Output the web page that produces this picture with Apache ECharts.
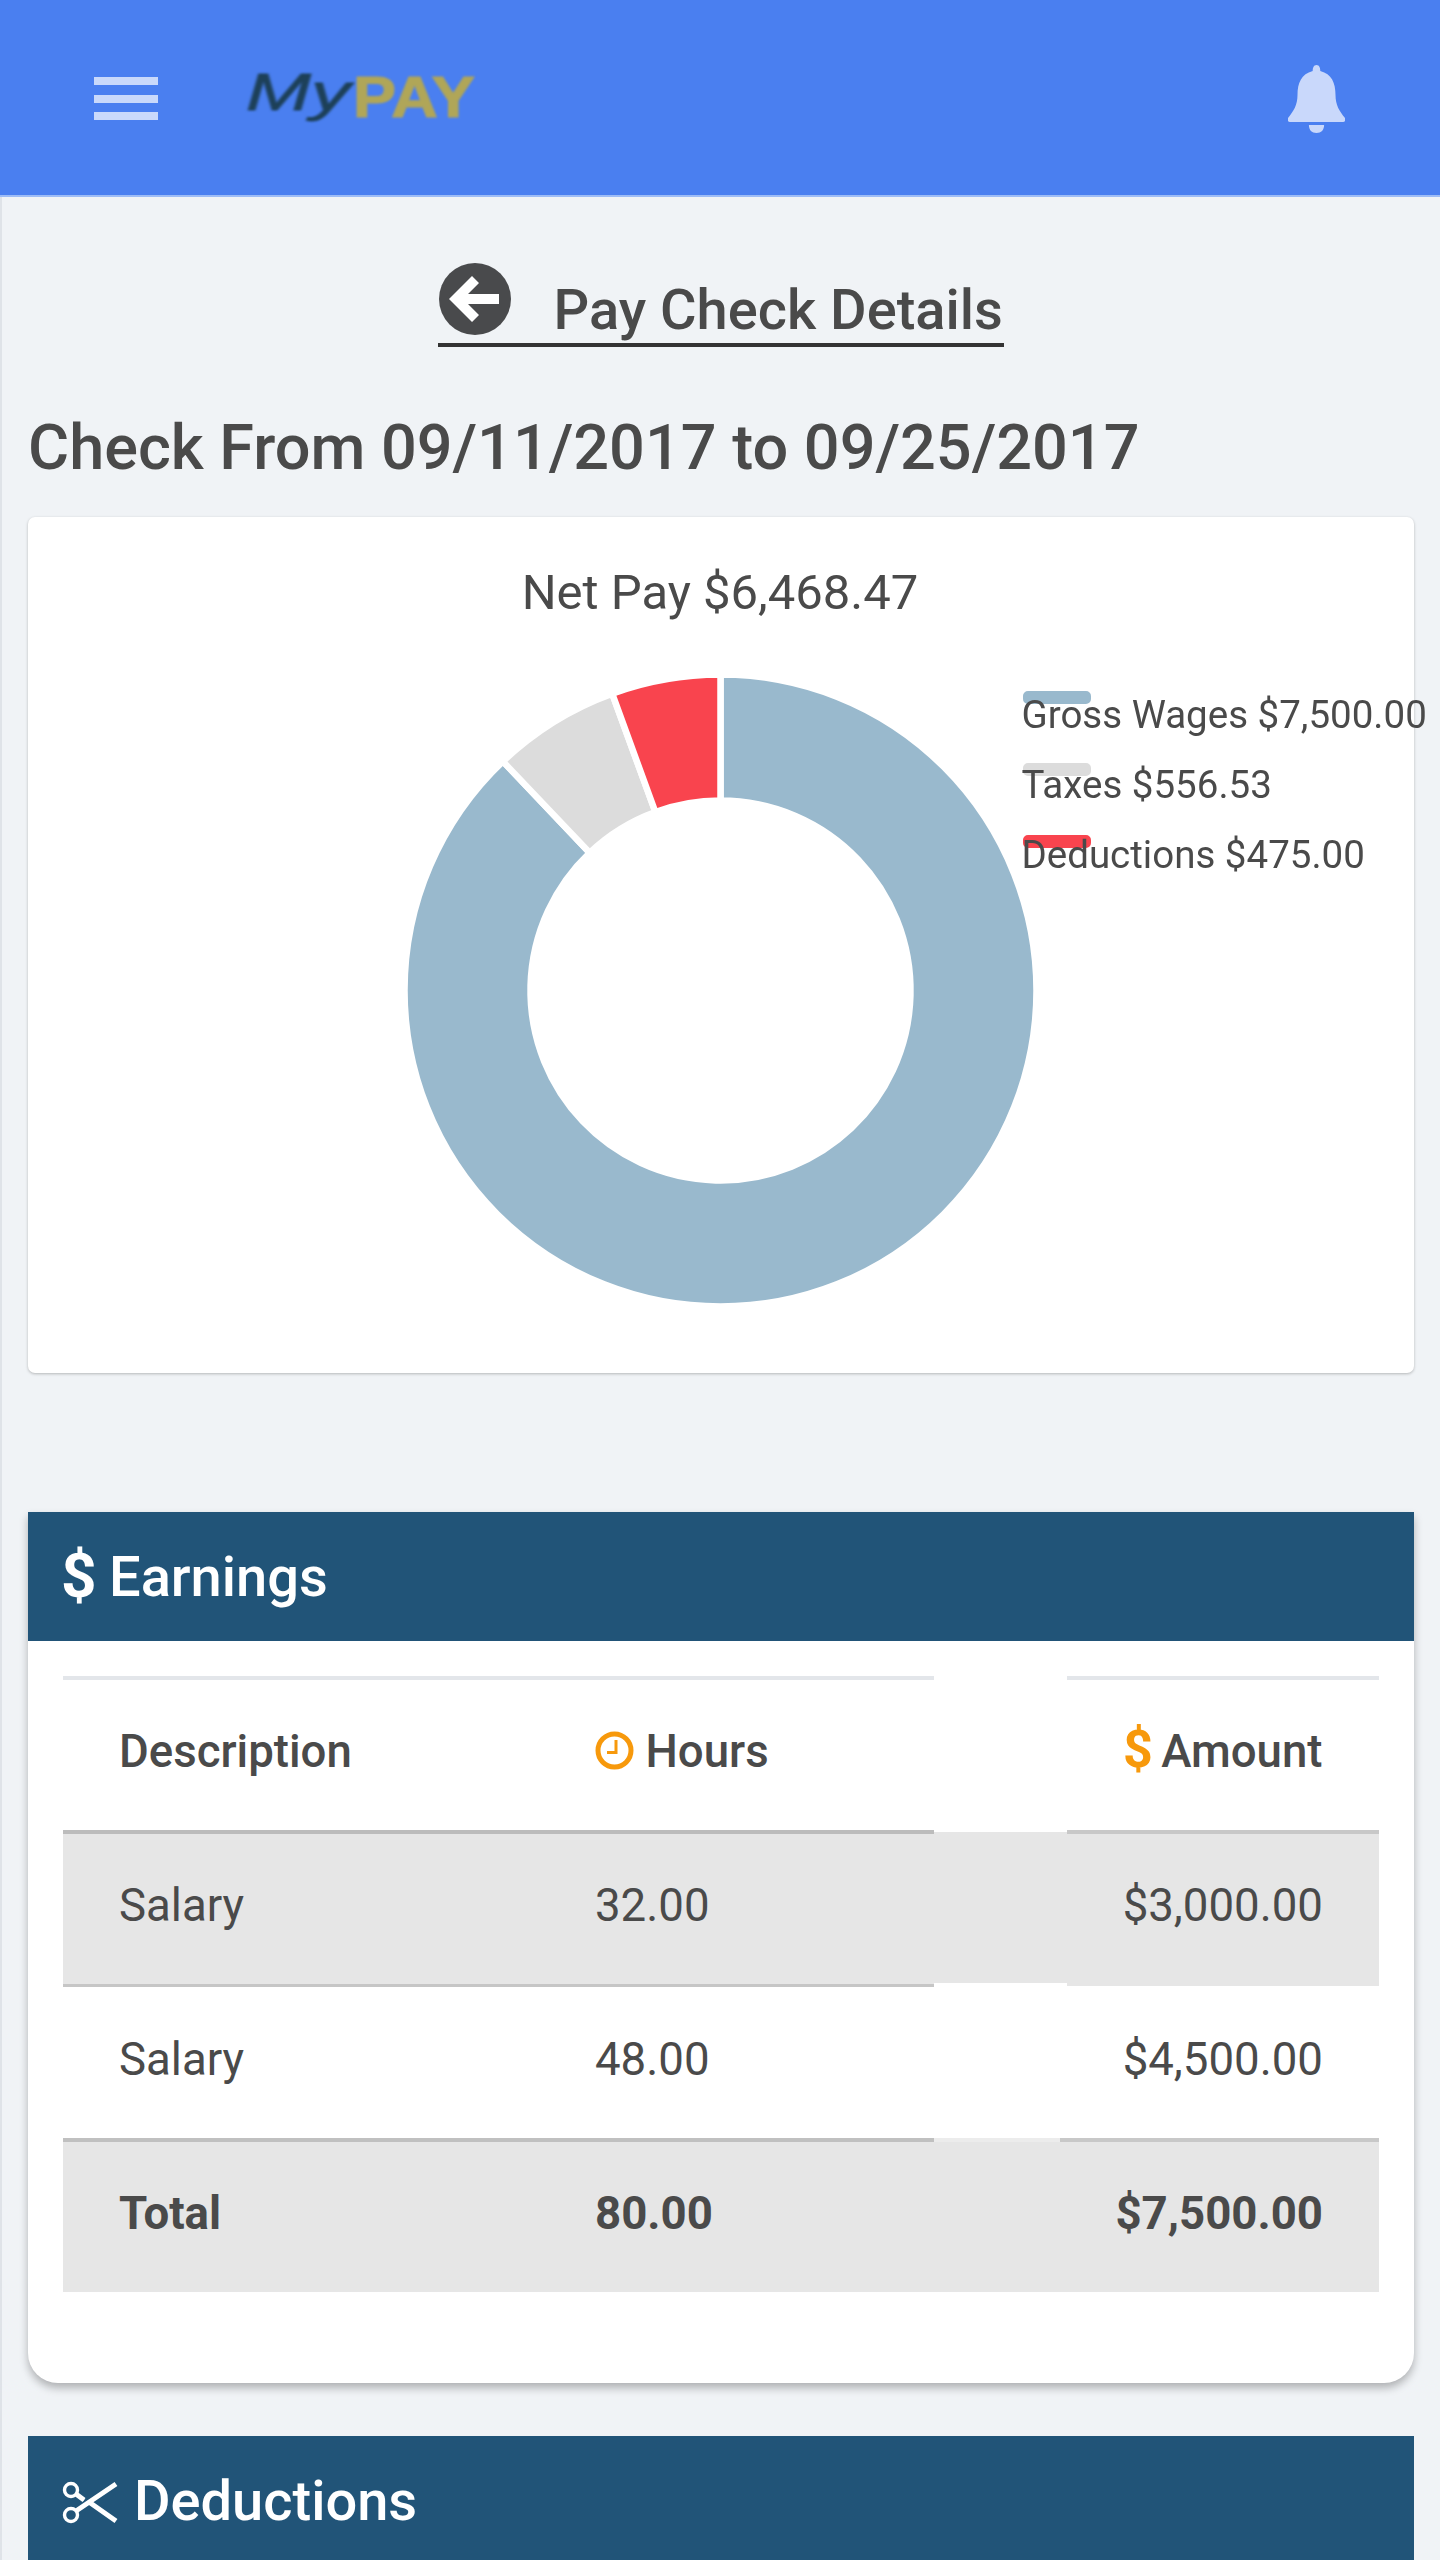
<!DOCTYPE html>
<html><head><meta charset="utf-8"><title>Pay Check Details</title>
<script src="https://cdn.jsdelivr.net/npm/echarts@6/dist/echarts.min.js"></script>
<style>
html,body{margin:0;padding:0}
body{width:1440px;height:2560px;background:#f0f3f6;position:relative;overflow:hidden;font-family:Roboto,sans-serif;color:#4a4a4a}
.b{position:absolute}
.t{position:absolute;white-space:nowrap;line-height:normal}
</style></head><body>
<div class="b" style="left:0;top:0;width:1440px;height:195px;background:#4a7ff0;border-bottom:2px solid #9dbcf6;box-sizing:content-box"></div>
<div class="b" style="left:0;top:197px;width:2px;height:2363px;background:#dfe3e8"></div>
<div class="b" style="left:94px;top:77px;width:64px;height:8px;background:#c9d9fb"></div>
<div class="b" style="left:94px;top:95px;width:64px;height:8px;background:#c9d9fb"></div>
<div class="b" style="left:94px;top:112px;width:64px;height:8px;background:#c9d9fb"></div>
<div class="t" style="left:246px;top:62px;font:italic 400 52px 'Liberation Sans';color:#1d4058;-webkit-text-stroke:.8px #1d4058;transform:scaleX(1.5);transform-origin:left;filter:blur(1px)">My</div>
<div class="t" style="left:353px;top:63px;font:700 58px 'Liberation Sans';transform:scaleX(1.11);transform-origin:left;filter:blur(.8px);-webkit-text-stroke:1.2px #b0a658;color:#b0a658">PAY</div>
<svg class="b" style="left:1288px;top:65px" width="57" height="68" viewBox="0 0 60 68" preserveAspectRatio="none"><path d="M30 0c3 0 4 3 4 6 12 3 16 12 16 24 0 10 4 16 10 23 1 2 0 4-2 4H2c-2 0-3-2-2-4 6-7 10-13 10-23C10 18 14 9 26 6c0-3 1-6 4-6zM22 60h16c0 5-3 8-8 8s-8-3-8-8z" fill="#c9d8fb"/></svg>
<svg class="b" style="left:439px;top:263px" width="72" height="72" viewBox="0 0 72 72"><circle cx="36" cy="36" r="36" fill="#494a4c"/><path d="M33 13l7 7-11 11h31v10H29l11 11-7 7L10 36z" fill="#fff"/></svg>
<div class="b" style="left:438px;top:343px;width:566px;height:4px;background:#333"></div>
<div class="b" style="left:28px;top:517px;width:1386px;height:856px;background:#fff;border-radius:7px;box-shadow:0 1px 3px rgba(0,0,0,.25)"></div>
<div class="b" style="left:28px;top:1512px;width:1386px;height:871px;background:#fff;border-radius:0 0 30px 30px;box-shadow:0 5px 8px rgba(0,0,0,.27)"></div>
<div class="b" style="left:28px;top:1512px;width:1386px;height:129px;background:#215478"></div>
<div class="b" style="left:28px;top:2436px;width:1386px;height:124px;background:#215478"></div>
<div class="b" id="bands"></div>
<svg class="b" style="left:595px;top:1731px" width="39" height="39" viewBox="0 0 39 39"><circle cx="19.5" cy="19.5" r="16.5" fill="none" stroke="#f7990c" stroke-width="5"/><path d="M21 9v12.5h-9" fill="none" stroke="#f7990c" stroke-width="3"/></svg>
<svg class="b" style="left:62px;top:2481px" width="57" height="43" viewBox="0 0 57 43" fill="none" stroke="#fff"><circle cx="9" cy="9" r="6.5" stroke-width="3.4"/><circle cx="9" cy="34" r="6.5" stroke-width="3.4"/><path d="M14 13l8 6M14 30l40-27M27 21l27 19" stroke-width="5"/><path d="M14 13l8 6" stroke-width="3"/></svg>
<div id="main" class="b" style="left:0;top:517px;width:1440px;height:856px"></div>
<div id="texts"></div>
<script>
// chart data
var sliceNames = ['Gross Wages', 'Taxes', 'Deductions'];
var sliceValues = [7500.00, 556.53, 475.00];
var sliceColors = ['#99b9cd', '#dcdcdc', '#f9444e'];
var netPay = 6468.47;
// table data
var pageTitle = 'Pay Check Details';
var checkTitle = 'Check From 09/11/2017 to 09/25/2017';
var tableHeads = ['Description', 'Hours', 'Amount'];
var rowDescriptions = ['Salary', 'Salary', 'Total'];
var rowHours = ['32.00', '48.00', '80.00'];
var rowAmounts = ['$3,000.00', '$4,500.00', '$7,500.00'];

function money(v){return '$'+v.toLocaleString('en-US',{minimumFractionDigits:2,maximumFractionDigits:2});}
var box=document.getElementById('texts');
function t(s,x,base,size,weight,color,right){
  var d=document.createElement('div');d.className='t';d.textContent=s;
  d.style.top=(base-0.927*size)+'px';
  d.style.fontSize=size+'px';d.style.fontWeight=weight;d.style.color=color||'#4a4a4a';
  if(right)d.style.right=(1440-x)+'px';else d.style.left=x+'px';
  box.appendChild(d);
}
function rect(x,y,w,h,c){
  var d=document.createElement('div');d.className='b';
  d.style.cssText+='left:'+x+'px;top:'+y+'px;width:'+w+'px;height:'+h+'px;background:'+c;
  document.getElementById('bands').appendChild(d);
}
rect(63,1832,1316,154,'#e6e6e6');
rect(934,1983,133,3,'#fff');
rect(63,2140,1316,152,'#e6e6e6');
rect(63,1676,871,4,'#e3e6ea');rect(1067,1676,312,4,'#e3e6ea');
rect(63,1830,871,4,'#bcbcbc');rect(1067,1830,312,4,'#c8c8c8');
rect(63,1984,871,3,'#c6c6c6');
rect(63,2138,871,4,'#c0c0c0');rect(1060,2138,319,4,'#c8c8c8');rect(934,2138,126,4,'#ececec');

t(pageTitle,553.5,329,56,500);
t(checkTitle,28,469,63,500);
t('$',61,1596,62,700,'#fff');
t('Earnings',109,1596,56,500,'#fff');
t('Deductions',134,2520,56,500,'#fff');
t(tableHeads[0],119,1767,45.6,500);
t(tableHeads[1],645.5,1767,45.6,500);
t('$',1123,1767,52,700,'#f7990c');
t(tableHeads[2],1322.5,1767,45.6,500,null,true);
var bases=[1921,2075,2229];
rowDescriptions.forEach(function(_,i){
  var w=i===2?700:400;
  t(rowDescriptions[i],119,bases[i],45.6,w);
  t(rowHours[i],595,bases[i],45.6,w);
  t(rowAmounts[i],1323,bases[i],45.6,w,null,true);
});

var seriesData=sliceNames.map(function(n,i){return {name:n,value:sliceValues[i],itemStyle:{color:sliceColors[i]}};});
var chart=echarts.init(document.getElementById('main'));
chart.setOption({
  animation:false,
  backgroundColor:'transparent',
  title:{text:'Net Pay '+money(netPay),left:'center',top:50,textStyle:{fontFamily:'Roboto',fontSize:49,fontWeight:400,color:'#4a4a4a'}},
  legend:[
    {orient:'vertical',left:1016,top:167,itemWidth:70,itemHeight:15,itemGap:55,icon:'path://M6 0H64a6 6 0 0 1 6 6v3a6 6 0 0 1 -6 6H6a6 6 0 0 1 -6 -6v-3a6 6 0 0 1 6 -6z',selectedMode:false,data:sliceNames,formatter:function(){return '';},z:2,textStyle:{fontSize:1}},
    {orient:'vertical',left:1010.5,top:175.5,itemWidth:0,itemHeight:0,itemGap:28,icon:'rect',selectedMode:false,data:sliceNames,z:3,
     formatter:function(n){return n+' '+money(sliceValues[sliceNames.indexOf(n)]);},
     textStyle:{fontFamily:'Roboto',fontSize:38.5,fontWeight:400,color:'#4a4a4a',lineHeight:42}}
  ],
  series:[{type:'pie',center:[720.5,473.5],radius:[190,316],startAngle:90,clockwise:true,silent:true,
    label:{show:false},labelLine:{show:false},
    itemStyle:{borderColor:'#fff',borderWidth:6.5},
    data:seriesData}]
});
</script>
</body></html>
